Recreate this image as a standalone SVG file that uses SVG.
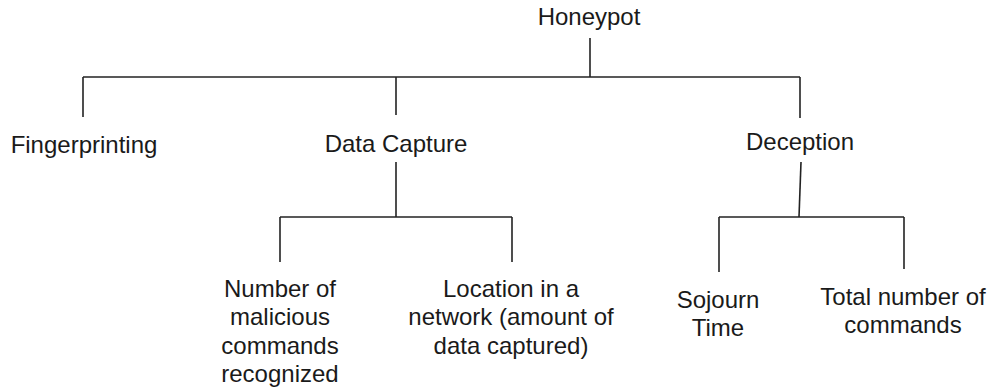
<svg xmlns="http://www.w3.org/2000/svg" width="993" height="391" viewBox="0 0 993 391">
<style>
text{font-family:"Liberation Sans",Arial,sans-serif;font-size:24px;fill:#1a1a1a;text-anchor:middle}
.c line{stroke:#222;stroke-width:1.6;fill:none}
</style>
<rect width="993" height="391" fill="#fff"/>
<g id="connectors" class="c">
<line x1="590" y1="38" x2="590" y2="77"/>
<line x1="83" y1="77" x2="800" y2="77"/>
<line x1="83" y1="77" x2="83" y2="117"/>
<line x1="396" y1="77" x2="396" y2="115"/>
<line x1="800" y1="77" x2="800" y2="118"/>
<line x1="396" y1="162" x2="396" y2="217"/>
<line x1="280" y1="217" x2="512" y2="217"/>
<line x1="280" y1="217" x2="280" y2="262"/>
<line x1="512" y1="217" x2="512" y2="262"/>
<line x1="801" y1="162" x2="799" y2="217"/>
<line x1="719" y1="217" x2="904" y2="217"/>
<line x1="719" y1="217" x2="719" y2="272"/>
<line x1="904" y1="217" x2="904" y2="269"/>
</g>
<g id="honeypot"><text x="589" y="25">Honeypot</text></g>
<g id="fingerprinting"><text x="84" y="153">Fingerprinting</text></g>
<g id="data-capture"><text x="396" y="152">Data Capture</text></g>
<g id="deception"><text x="800" y="150">Deception</text></g>
<g id="malicious-commands"><text x="280" y="297">Number of</text><text x="280" y="325">malicious</text><text x="280" y="354">commands</text><text x="280" y="382">recognized</text></g>
<g id="location"><text x="511" y="297">Location in a</text><text x="511" y="325">network (amount of</text><text x="511" y="354">data captured)</text></g>
<g id="sojourn-time"><text x="718" y="308">Sojourn</text><text x="718" y="336">Time</text></g>
<g id="total-commands"><text x="903" y="305">Total number of</text><text x="903" y="333">commands</text></g>
</svg>
